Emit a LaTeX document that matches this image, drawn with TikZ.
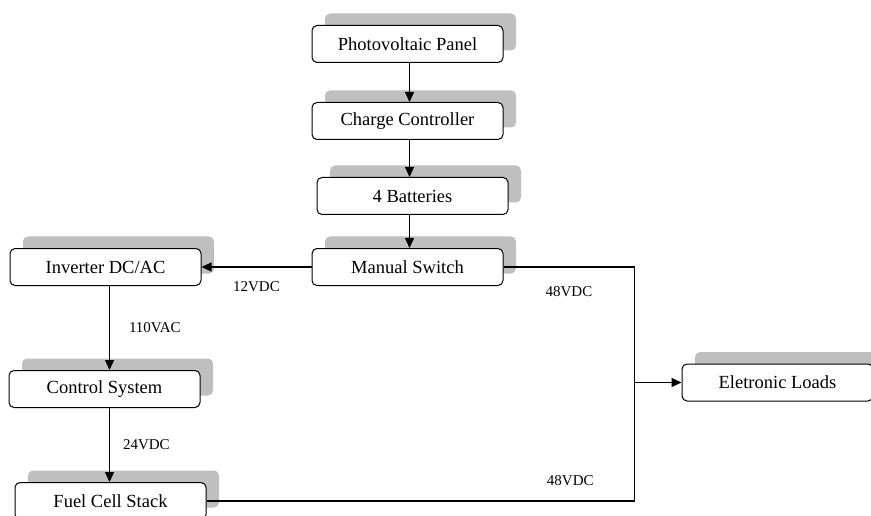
\documentclass[tikz,border=0pt]{standalone}
\usepackage{fontspec}
\setmainfont{Liberation Serif}
\usetikzlibrary{shadows, arrows.meta}
\usetikzlibrary{positioning}

\begin{document}
\begin{tikzpicture}[x=1pt, y=-1pt,
    block/.style = {draw, rounded corners=5pt, fill=white, line width=1pt,
      minimum width=191pt, minimum height=37pt, inner sep=0pt,
      font=\fontsize{18.5}{21}\selectfont,
      drop shadow={shadow xshift=13pt, shadow yshift=12pt, fill=black!25, opacity=1}},
    volt/.style = {inner sep=0pt, font=\fontsize{15}{17}\selectfont},
    wire/.style = {line width=1.1pt},
    feed/.style = {wire, -{Triangle[length=10pt, width=9pt]}}]
  \useasboundingbox (0,0) rectangle (871,516);

  % solar side
  \node[block] (pv) at (407.5,44) {Photovoltaic Panel};
  \node[block, below=39pt of pv] (cc) {Charge Controller};
  \node[block, below=37pt of cc, xshift=5pt] (bat) {4 Batteries};
  \node[block, below=33pt of bat, xshift=-5pt] (sw) {Manual Switch};

  % left column
  \node[block, left=110pt of sw] (inv) {Inverter DC/AC};
  \node[block, below=84pt of inv, xshift=-1pt] (ctrl) {Control System};
  \node[block, below=74pt of ctrl, xshift=6pt] (fc) {Fuel Cell Stack};

  % load side
  \node[block] (load) at (777.5,382.5) {Eletronic Loads};
  \coordinate[right=131pt of sw.east] (bustop);
  \coordinate (busmid) at (bustop |- load.west);
  \coordinate (busbot) at (bustop |- fc.east);

  \draw[feed] ([xshift=2pt]pv.south) -- ([xshift=2pt]pv.south |- cc.north);
  \draw[feed] ([xshift=2pt]cc.south) -- ([xshift=2pt]cc.south |- bat.north);
  \draw[feed] ([xshift=2pt]sw.north |- bat.south) -- ([xshift=2pt]sw.north);
  \draw[feed] (sw) -- node[volt, below=14pt] {12VDC} (inv);
  \draw[feed] ([xshift=4pt]inv.south) -- node[volt, right=19pt] {110VAC} ([xshift=4pt]inv.south |- ctrl.north);
  \draw[feed] ([xshift=5pt]ctrl.south) -- node[volt, right=13pt] {24VDC} ([xshift=5pt]ctrl.south |- fc.north);
  \draw[wire] (sw) -- node[volt, below=19pt] {48VDC} (bustop) -- (busbot)
    -- node[volt, pos=0.15, above=15pt] {48VDC} (fc);
  \draw[feed] (busmid) -- (load);
\end{tikzpicture}
\end{document}
